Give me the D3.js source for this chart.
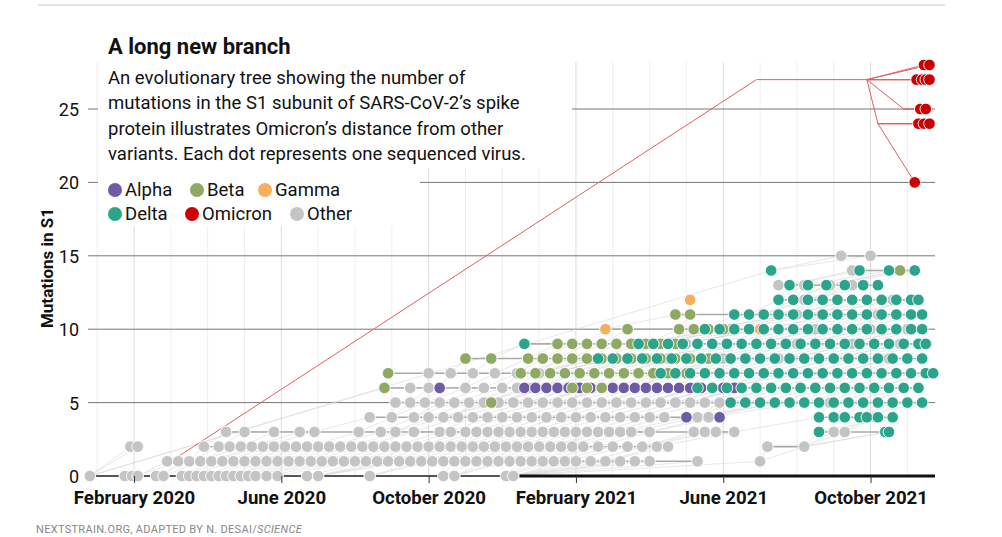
<!DOCTYPE html>
<html lang="en">
  <head>
    <meta http-equiv="Content-Type" content="text/html; charset=utf-8" />
    <title>A long new branch</title>
    <script src="https://cdnjs.cloudflare.com/ajax/libs/d3/7.8.5/d3.min.js"></script>
    <style>
      body { margin: 0; background: #fff; font-family: Roboto, "Noto Sans", sans-serif; }
      .tick text { font-family: Roboto, sans-serif; }
    </style>
  </head>
  <body>
    <svg id="chart" width="1002" height="537"></svg>
    <script>
      // x values are months counted from 1 Jan 2020 (1 = February 2020)
      var tickMonths = [1, 5, 9, 13, 17, 21];
      var tickLabels = ["February 2020", "June 2020", "October 2020", "February 2021", "June 2021", "October 2021"];
      var yTicks = [0, 5, 10, 15, 20, 25];

      var clades = ["Alpha", "Beta", "Gamma", "Delta", "Omicron", "Other"];
      var cladeColors = ["#6e5ba6", "#8fa862", "#f7ae5f", "#2aa58b", "#cc0000", "#c4c4c4"];

      // rows: [mutations, [months...]]
      var otherRows = [
        [0, [-0.2,0.75,0.95,1.1,1.6,1.8,2.3,2.5,2.7,2.9,3.1,3.3,3.5,3.7,3.9,4.1,4.3,4.6,4.9,5.7,6.0,7.4,9.4,9.7,11.1,11.3]],
        [1, [1.9,2.2,2.5,2.8,3.1,3.4,3.7,4.0,4.3,4.6,4.9,5.2,5.5,5.8,6.1,6.4,6.7,7.0,7.3,7.6,7.9,8.2,8.5,8.8,9.1,9.4,9.7,10.0,10.3,10.6,10.9,11.2,11.5,11.8,12.1,12.4,12.7,13.0,13.4,13.8,14.2,14.6,15.0,16.3,18.0]],
        [2, [0.9,1.1,2.9,3.3,3.6,3.9,4.2,4.5,4.8,5.1,5.4,5.7,6.0,6.3,6.6,6.9,7.2,7.5,7.8,8.1,8.4,8.7,9.0,9.3,9.6,9.9,10.2,10.5,10.8,11.1,11.4,11.7,12.0,12.3,12.6,12.9,13.2,13.6,14.0,14.4,14.8,15.2,15.5,18.2,19.2]],
        [3, [3.5,4.0,4.8,5.5,5.9,7.1,7.7,8.1,8.6,9.3,9.6,10.0,10.3,10.6,10.9,11.2,11.5,11.8,12.1,12.4,12.7,13.0,13.3,13.6,13.9,14.2,14.5,15.0,16.2,16.5,16.8,17.3,20.0,20.3]],
        [4, [7.4,8.0,8.6,9.0,9.4,9.8,10.2,10.6,11.0,11.4,11.8,12.2,12.6,13.0,13.4,13.8,14.2,14.6,15.0,15.4,16.3,16.6]],
        [5, [8.1,8.5,8.9,9.3,9.7,10.1,10.5,10.9,11.3,11.7,12.1,12.5,12.9,13.3,13.7,14.1,14.5,14.9,15.3,15.7,16.1,16.5,16.9,19.9]],
        [6, [8.5,9.0,10.0,10.5,11.0,11.4,11.8,12.2,17.5,18.3]],
        [7, [9.0,9.6,10.2,10.8,11.4,12.0]],
        [8, [14.0,15.5,17.0,18.5,20.0,21.5]],
        [9, [16.0,17.5,19.0,20.5,21.8]],
        [10, [17.2,18.0,19.5,21.0,22.0]],
        [11, [19.0,20.1,21.2]],
        [12, [19.2,20.5,21.6]],
        [13, [18.5,19.2,19.9,20.5]],
        [14, [20.5,21.8]],
        [15, [20.2,21.0]]
      ];
      var alphaRows = [
        [4, [16.0,16.9]],
        [6, [9.3,11.6,11.9,12.2,12.5,12.8,13.1,13.4,13.7,14.0,14.3,14.6,14.9,15.2,15.5,15.8,16.1,16.4,16.7,17.0,17.3]]
      ];
      var betaRows = [
        [5, [10.7]],
        [6, [7.8,12.9,13.3,13.7]],
        [7, [7.9,11.5,11.9,12.3,12.7,13.1,13.5,13.9,14.3,14.7,15.1,15.5,16.0]],
        [8, [10.0,10.7,11.7,12.1,12.5,12.9,13.3,13.7,14.1,14.5,14.9,15.3,15.7,16.1,16.6]],
        [9, [12.5,12.9,13.3,13.7,14.1,14.5,14.9,15.3,15.7]],
        [10, [14.4,15.8,16.2,16.6,17.0]],
        [11, [15.7,16.1]],
        [14, [21.8]]
      ];
      var gammaRows = [
        [10, [13.8,18.0]],
        [12, [16.1]]
      ];
      var deltaRows = [
        [3, [19.6,21.4,21.5]],
        [4, [19.6,20.0,20.3,20.7,20.9,21.2,21.6]],
        [5, [17.2,17.6,18.0,18.4,18.8,19.2,19.6,20.0,20.4,20.8,21.2,21.6,22.0,22.4]],
        [6, [16.3,16.7,17.1,17.5,17.9,18.3,18.7,19.1,19.5,19.9,20.3,20.7,21.1,21.5,21.9,22.3]],
        [7, [15.3,15.7,16.1,16.5,16.9,17.3,17.7,18.1,18.5,18.9,19.3,19.7,20.1,20.5,20.9,21.3,21.7,22.1,22.5,22.7]],
        [8, [13.6,14.0,14.4,14.8,15.2,15.6,16.0,16.4,16.8,17.2,17.6,18.0,18.4,18.8,19.2,19.6,20.0,20.4,20.8,21.2,21.6,22.0,22.4]],
        [9, [11.6,14.7,15.1,15.5,15.9,16.3,16.7,17.1,17.5,17.9,18.3,18.7,19.1,19.5,19.9,20.3,20.7,21.1,21.5,21.9,22.3,22.5]],
        [10, [16.5,16.9,17.3,17.7,18.1,18.5,18.9,19.3,19.7,20.1,20.5,20.9,21.3,21.7,22.1,22.4]],
        [11, [17.3,17.7,18.1,18.5,18.9,19.3,19.7,20.1,20.5,20.9,21.3,21.7,22.1,22.4]],
        [12, [18.5,18.9,19.3,19.7,20.1,20.5,20.9,21.3,21.7,22.1,22.3]],
        [13, [18.8,19.3,19.8,20.3,20.8,21.2]],
        [14, [18.3,20.7,21.5,22.2]]
      ];
      var omicronRows = [
        [20, [22.2]],
        [24, [22.3,22.45,22.6]],
        [25, [22.35,22.5]],
        [27, [22.25,22.4,22.5,22.6]],
        [28, [22.45,22.6]]
      ];
      // omicron branch: root path, and the node each leaf row hangs from
      var omicronStem = [[2.0, 1], [17.9, 27], [20.9, 27]];
      var omicronJoin = { 20: [21.2, 24], 24: [21.2, 24], 25: [21.9, 25], 27: [20.9, 27], 28: [20.9, 27] };

      var svg = d3.select("#chart");
      var x = d3.scaleLinear().domain([-0.25, 22.75]).range([88, 935]);
      var y = d3.scaleLinear().domain([0, 25]).range([476, 109]);
      var color = d3.scaleOrdinal().domain(clades).range(cladeColors);

      function flatten(rows, clade) {
        var out = [];
        rows.forEach(function(r) {
          r[1].forEach(function(m) { out.push({ clade: clade, m: m, y: r[0] }); });
        });
        return out;
      }
      var dots = [].concat(
        flatten(otherRows, "Other"), flatten(alphaRows, "Alpha"), flatten(betaRows, "Beta"),
        flatten(gammaRows, "Gamma"), flatten(deltaRows, "Delta")
      );
      var omicronDots = flatten(omicronRows, "Omicron");

      // top rule
      svg.append("line").attr("x1", 38).attr("x2", 945).attr("y1", 5).attr("y2", 5)
        .attr("stroke", "#ddd").attr("stroke-width", 1.5);

      // grid
      var months = d3.range(0, 23);
      svg.append("g").selectAll("line").data(months).enter().append("line")
        .attr("x1", function(d) { return x(d); }).attr("x2", function(d) { return x(d); })
        .attr("y1", 62).attr("y2", 476)
        .attr("stroke", function(d) { return tickMonths.indexOf(d) >= 0 ? "#dcdcdc" : "#efefef"; })
        .attr("stroke-width", 1);
      svg.append("g").selectAll("line").data(yTicks.slice(1)).enter().append("line")
        .attr("x1", 88).attr("x2", 935)
        .attr("y1", function(d) { return y(d); }).attr("y2", function(d) { return y(d); })
        .attr("stroke", "#777").attr("stroke-width", 1);

      // gray tree links: each dot to a nearby earlier dot one mutation lower
      var links = svg.append("g").attr("fill", "none");
      var byRow = d3.group(dots, function(d) { return d.y; });
      dots.forEach(function(d) {
        var prev = (byRow.get(d.y - 1) || []).filter(function(p) { return p.m <= d.m; });
        var p = prev.length ? prev[prev.length - 1] : { m: -0.2, y: 0 };
        var near = prev.filter(function(q) { return d.m - q.m < 3; });
        if (near.length) p = near[Math.floor(near.length / 2)];
        links.append("line")
          .attr("x1", x(p.m)).attr("y1", y(p.y)).attr("x2", x(d.m)).attr("y2", y(d.y))
          .attr("stroke", "#d6d6d6").attr("stroke-width", 0.7).attr("opacity", 0.8);
      });
      // in-row connectors
      byRow.forEach(function(row) {
        var s = row.slice().sort(function(a, b) { return a.m - b.m; });
        for (var i = 1; i < s.length; i++) {
          if (s[i].m - s[i - 1].m < 1.6) {
            links.append("line")
              .attr("x1", x(s[i - 1].m)).attr("x2", x(s[i].m))
              .attr("y1", y(s[i].y)).attr("y2", y(s[i].y))
              .attr("stroke", "#aaa").attr("stroke-width", 1.6);
          }
        }
      });

      // omicron branch
      var line = d3.line().x(function(d) { return x(d[0]); }).y(function(d) { return y(d[1]); });
      var om = svg.append("g").attr("fill", "none").attr("stroke", "#e06060").attr("stroke-width", 1);
      om.append("path").attr("d", line(omicronStem));
      var stemEnd = omicronStem[omicronStem.length - 1];
      [24, 25].forEach(function(r) {
        om.append("path").attr("d", line([stemEnd, omicronJoin[r]]));
      });
      omicronDots.forEach(function(d) {
        var j = omicronJoin[d.y];
        var pts = d.y >= 27 ? [j, [d.m, d.y]] : [j, [j[0] + 0.4, d.y], [d.m, d.y]];
        if (d.y === 20) pts = [j, [d.m, d.y]];
        om.append("path").attr("d", line(pts));
      });

      // axis baseline
      svg.append("line").attr("x1", 88).attr("x2", 935).attr("y1", 476).attr("y2", 476)
        .attr("stroke", "#555").attr("stroke-width", 2);
      svg.append("line").attr("x1", x(11.3)).attr("x2", 935).attr("y1", 476).attr("y2", 476)
        .attr("stroke", "#111").attr("stroke-width", 3);

      // dots
      var all = dots.concat(omicronDots);
      svg.append("g").selectAll("circle").data(all).enter().append("circle")
        .attr("cx", function(d) { return x(d.m); })
        .attr("cy", function(d) { return y(d.y); })
        .attr("r", 5.8)
        .attr("fill", function(d) { return color(d.clade); })
        .attr("stroke", "#fff").attr("stroke-width", 0.9);

      // white panels behind header text
      svg.append("rect").attr("x", 98).attr("y", 28).attr("width", 474).attr("height", 140).attr("fill", "#fff");
      svg.append("rect").attr("x", 98).attr("y", 166).attr("width", 322).attr("height", 60).attr("fill", "#fff");

      // x axis
      var xAxis = d3.axisBottom(x).tickValues(tickMonths)
        .tickFormat(function(d, i) { return tickLabels[i]; }).tickSize(7).tickSizeOuter(0);
      var gx = svg.append("g").attr("transform", "translate(0,476)").call(xAxis);
      gx.select(".domain").remove();
      gx.selectAll(".tick line").attr("stroke", "#333");
      gx.selectAll(".tick text").attr("font-size", 19).attr("font-weight", "bold").attr("fill", "#111")
        .attr("dy", "0.95em").attr("transform", "scale(0.98,1)");

      // y axis labels
      var yAxis = d3.axisLeft(y).tickValues(yTicks).tickSize(0);
      var gy = svg.append("g").attr("transform", "translate(82,0)").call(yAxis);
      gy.select(".domain").remove();
      gy.selectAll(".tick text").attr("font-size", 18).attr("fill", "#111").attr("dy", "0.36em");

      svg.append("text").attr("transform", "translate(53,268) rotate(-90)")
        .attr("text-anchor", "middle").attr("font-size", 17).attr("font-weight", "bold").attr("fill", "#111")
        .text("Mutations in S1");

      // title and description
      svg.append("text").attr("x", 108).attr("y", 54).attr("font-size", 22).attr("font-weight", "bold")
        .attr("fill", "#111").text("A long new branch");
      var desc = [
        "An evolutionary tree showing the number of",
        "mutations in the S1 subunit of SARS-CoV-2’s spike",
        "protein illustrates Omicron’s distance from other",
        "variants. Each dot represents one sequenced virus."
      ];
      svg.append("g").selectAll("text").data(desc).enter().append("text")
        .attr("x", 108).attr("y", function(d, i) { return 84 + i * 25.3; })
        .attr("font-size", 18.5).attr("fill", "#111").text(function(d) { return d; });

      // legend
      var legendPos = [[108, 190], [190, 190], [258, 190], [108, 214], [185, 214], [290, 214]];
      var lg = svg.append("g").selectAll("g").data(clades).enter().append("g")
        .attr("transform", function(d, i) { return "translate(" + legendPos[i][0] + "," + legendPos[i][1] + ")"; });
      lg.append("circle").attr("cx", 7).attr("cy", 0).attr("r", 7).attr("fill", function(d) { return color(d); });
      lg.append("text").attr("x", 17).attr("y", 6).attr("font-size", 18.5).attr("fill", "#111").text(function(d) { return d; });

      // source
      var src = svg.append("text").attr("x", 36).attr("y", 533).attr("font-size", 11).attr("fill", "#888")
        .attr("letter-spacing", 0.3);
      src.append("tspan").text("NEXTSTRAIN.ORG, ADAPTED BY N. DESAI/");
      src.append("tspan").attr("font-style", "italic").text("SCIENCE");
    </script>
  </body>
</html>
